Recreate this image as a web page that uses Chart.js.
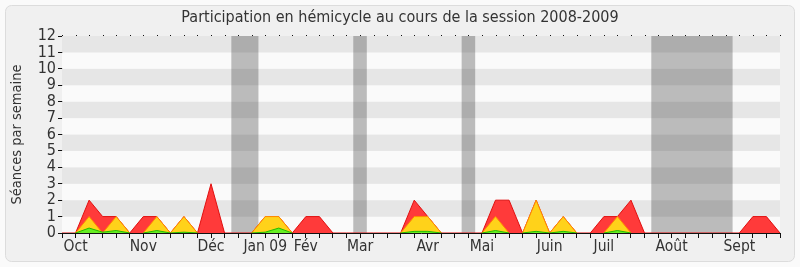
<!DOCTYPE html>
<html>
<head>
<meta charset="utf-8">
<script src="https://cdn.jsdelivr.net/npm/chart.js@4/dist/chart.umd.min.js"></script>
<style>
  html, body { margin: 0; padding: 0; background: #fff; }
  #wrap { width: 800px; height: 267px; }
</style>
</head>
<body>
<div id="wrap"><canvas id="chart" width="800" height="267"></canvas></div>
<script>
// one slot per week, session 2008-2009
const weeks = ['0','1','2','3','4','5','6','7','8','9','10','11','12','13','14','15','16','17','18','19','20','21','22','23','24','25','26','27','28','29','30','31','32','33','34','35','36','37','38','39','40','41','42','43','44','45','46','47','48','49','50','51','52','53'];

// month labels and the week slot they sit on
const monthNames = ['Oct', 'Nov', 'Déc', 'Jan 09', 'Fév', 'Mar', 'Avr', 'Mai', 'Juin', 'Juil', 'Août', 'Sept'];
const monthWeeks = [1, 6, 11, 15, 18, 22, 27, 31, 36, 40, 45, 50];

// series (séances par semaine)
const presences = [0,0,2,1,1,0,1,1,0,1,0,3,0,0,0,1,1,0,1,1,0,0,0,0,0,0,2,1,0,0,0,0,2,2,0,2,0,1,0,0,1,1,2,0,0,0,0,0,0,0,0,1,1,0];
const interventions = [0,0,1,0,1,0,0,1,0,1,0,0,0,0,0,1,1,0,0,0,0,0,0,0,0,0,1,1,0,0,0,0,1,0,0,2,0,1,0,0,0,1,0,0,0,0,0,0,0,0,0,0,0,0];
const questions = [0,0,0.3,0.05,0.15,0,0,0.15,0,0.05,0,0,0,0,0,0.05,0.3,0,0,0,0,0,0,0,0,0,0.1,0.1,0,0,0,0,0.15,0,0,0.1,0,0.1,0,0,0,0.15,0,0,0,0,0,0,0,0,0,0,0,0];

// holidays (in week slots)
const vacStart = [12.5, 21.5, 29.5, 43.5];
const vacEnd = [14.5, 22.5, 30.5, 49.5];

const FONT = "'DejaVu Sans Condensed', 'DejaVu Sans', sans-serif";

// hide the border of a series where it lies flat on zero
const hideFlat = ctx => (ctx.p0.parsed.y === 0 && ctx.p1.parsed.y === 0) ? 'rgba(0,0,0,0)' : undefined;

const background = {
    id: 'background',
    beforeDraw(chart) {
        const ctx = chart.ctx;
        ctx.save();
        ctx.fillStyle = '#fafafa';
        ctx.fillRect(0, 0, chart.width, chart.height);
        ctx.beginPath();
        ctx.roundRect(5.5, 5.5, 789, 256, 6);
        ctx.fillStyle = '#f0f0f0';
        ctx.fill();
        ctx.strokeStyle = '#dcdcdc';
        ctx.lineWidth = 1;
        ctx.stroke();
        ctx.restore();
    },
    beforeDatasetsDraw(chart) {
        const ctx = chart.ctx;
        const area = chart.chartArea;
        const x = chart.scales.x, y = chart.scales.y;
        ctx.save();
        // horizontal stripes
        for (let v = 0; v < 12; v++) {
            const top = y.getPixelForValue(v + 1), bot = y.getPixelForValue(v);
            ctx.fillStyle = (v % 2 === 1) ? '#e6e6e6' : '#fafafa';
            ctx.fillRect(area.left, top, area.right - area.left, bot - top);
        }
        // holiday bands
        ctx.fillStyle = 'rgba(43,43,43,0.3)';
        for (let i = 0; i < vacStart.length; i++) {
            const x0 = x.getPixelForValue(vacStart[i]);
            const x1 = x.getPixelForValue(vacEnd[i]);
            ctx.fillRect(x0, area.top, x1 - x0, area.bottom - area.top);
        }
        // dotted top line
        ctx.fillStyle = '#111';
        for (let i = 0; i < weeks.length; i++) {
            const px = Math.round(x.getPixelForValue(i));
            ctx.fillRect(px, Math.round(area.top) - 1, 1, 1);
        }
        ctx.restore();
    }
};

new Chart(document.getElementById('chart'), {
    type: 'line',
    data: {
        labels: weeks,
        datasets: [
            {
                label: 'Questions',
                data: questions,
                backgroundColor: '#66ee22',
                borderColor: '#22bb00',
                borderWidth: 1,
                fill: 'origin',
                pointRadius: 0,
                tension: 0,
                segment: { borderColor: hideFlat },
                order: 0
            },
            {
                label: 'Interventions',
                data: interventions,
                backgroundColor: '#ffd21a',
                borderColor: '#ff8c00',
                borderWidth: 1,
                fill: 'origin',
                pointRadius: 0,
                tension: 0,
                segment: { borderColor: hideFlat },
                order: 1
            },
            {
                label: 'Présences',
                data: presences,
                backgroundColor: '#ff3a3a',
                borderColor: '#e01010',
                borderWidth: 1,
                fill: 'origin',
                pointRadius: 0,
                tension: 0,
                order: 2
            }
        ]
    },
    options: {
        responsive: false,
        animation: false,
        layout: { padding: { left: 20, right: 20, top: 0, bottom: 0 } },
        plugins: {
            legend: { display: false },
            tooltip: { enabled: false },
            title: {
                display: true,
                text: 'Participation en hémicycle au cours de la session 2008-2009',
                color: '#333',
                font: { family: FONT, size: 16, weight: 'normal' },
                padding: { top: 8, bottom: 8.8 }
            }
        },
        scales: {
            x: {
                type: 'category',
                offset: false,
                border: { display: true, color: '#111', width: 1 },
                grid: { display: true, drawOnChartArea: false, drawTicks: true, tickLength: 5, color: '#111' },
                ticks: {
                    autoSkip: false,
                    maxRotation: 0,
                    padding: 0,
                    color: '#333',
                    font: { family: FONT, size: 15.5 },
                    callback: function(value, index) {
                        const k = monthWeeks.indexOf(index);
                        return k >= 0 ? monthNames[k] : '';
                    }
                },
                afterFit(scale) { scale.height = 34; }
            },
            y: {
                min: 0,
                max: 12,
                border: { display: true, color: '#111', width: 1 },
                grid: { display: true, drawOnChartArea: false, drawTicks: true, tickLength: 4, color: '#111' },
                ticks: {
                    stepSize: 1,
                    autoSkip: false,
                    padding: 2,
                    color: '#333',
                    font: { family: FONT, size: 16, lineHeight: 1 }
                },
                title: {
                    display: true,
                    text: 'Séances par semaine',
                    color: '#333',
                    font: { family: FONT, size: 14.5 },
                    padding: { top: -11, bottom: 0 }
                },
                afterFit(scale) { scale.width = 42; }
            }
        }
    },
    plugins: [background]
});
</script>
</body>
</html>
